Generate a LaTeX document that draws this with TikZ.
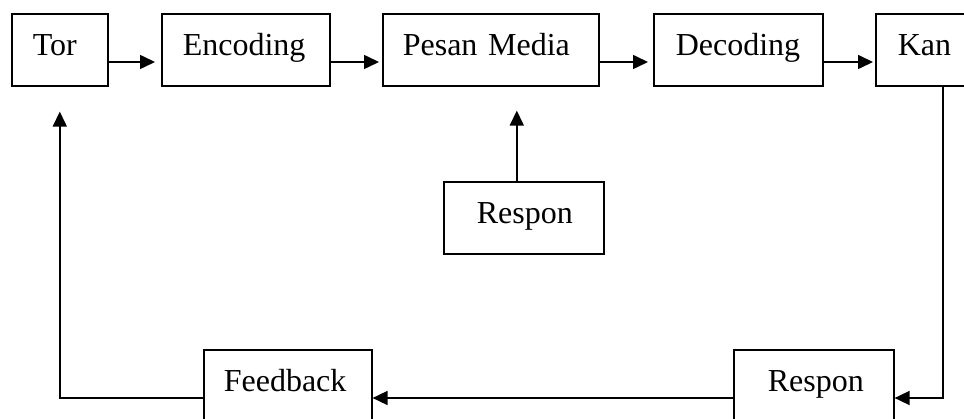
\documentclass[tikz,border=0pt]{standalone}
\usepackage{fontspec}
\setmainfont{Liberation Serif}
\usetikzlibrary{arrows.meta}
\begin{document}
\begin{tikzpicture}[x=1pt,y=-1pt,
  box/.style={draw=black, line width=1.6pt, minimum height=72pt, anchor=north west,
    align=left, font=\fontsize{32}{38}\selectfont, inner ysep=0pt,
    text height=21pt, text depth=10pt},
  conn/.style={line width=1.6pt},
  arr/.style={conn, -{Triangle[length=15pt,width=14pt]}}]
\useasboundingbox (0,0) rectangle (964,419);
\clip (0,0) rectangle (964,419);
\fill[white] (0,0) rectangle (964,419);
\coordinate (r1) at (0,62);
\coordinate (r2) at (0,398);
\node[box, inner xsep=21pt, text width=54pt]  (tor) at (11,13)  {Tor};
\node[box, inner xsep=21pt, text width=126pt] (enc) at (161,13) {Encoding};
\node[box, inner xsep=20pt, text width=176pt] (pes) at (382,13) {Pesan Media};
\node[box, inner xsep=22pt, text width=125pt] (dec) at (653,13) {Decoding};
\node[box, inner xsep=22pt, text width=90pt]  (kan) at (875,13) {Kan};
\node[box, inner xsep=33pt, text width=94pt]  (res1) at (443,181) {Respon};
\node[box, inner xsep=20pt, text width=128pt] (fb) at (203,349) {Feedback};
\node[box, inner xsep=34pt, text width=92pt]  (res2) at (733,349) {Respon};
\draw[arr, shorten >=6pt] (tor.east |- r1) -- (enc.west |- r1);
\draw[arr, shorten >=3pt] (enc.east |- r1) -- (pes.west |- r1);
\draw[arr, shorten >=5pt] (pes.east |- r1) -- (dec.west |- r1);
\draw[arr, shorten >=2pt] (dec.east |- r1) -- (kan.west |- r1);
\draw[arr, shorten >=24pt] ([xshift=-7pt]res1.north) -- ([xshift=-7pt]res1.north |- pes.south);
\draw[arr] (kan.south) -- (kan.south |- r2) -- (res2.east |- r2);
\draw[arr] (res2.west |- r2) -- (fb.east |- r2);
\draw[arr, shorten >=25pt] (fb.west |- r2) -| (tor.south);
\end{tikzpicture}
\end{document}
